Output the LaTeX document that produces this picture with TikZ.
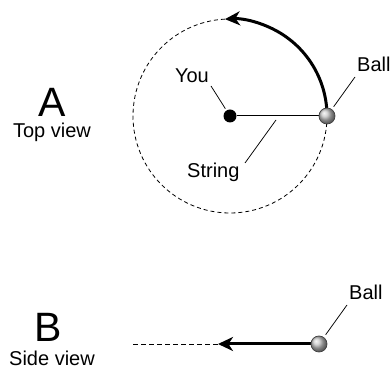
\documentclass[tikz,border=0pt]{standalone}
\usepackage{fontspec}
\setmainfont{Liberation Sans}
\usetikzlibrary{arrows.meta,backgrounds}

\begin{document}
\begin{tikzpicture}[x=1pt,y=-1pt,
    lbl/.style={font=\fontsize{20}{22}\selectfont, inner sep=0pt},
    bigletter/.style={font=\fontsize{41}{44}\selectfont, inner sep=0pt},
    balldot/.style={circle, minimum size=16pt, inner sep=0pt, draw=black!75, line width=0.7pt, shading=ball, ball color=gray!45},
    youdot/.style={circle, fill=black, minimum size=13pt, inner sep=0pt},
    leader/.style={line width=0.75pt},
    orbit/.style={line width=0.8pt, dash pattern=on 4pt off 3pt},
    mover/.style={line width=3pt, -{Stealth[length=15pt,width=14pt,inset=4.5pt]}}]
    \useasboundingbox (0,0) rectangle (392,371);

    % A: top view
    \node[bigletter, anchor=base] (lettA) at (52,117) {A};
    \node[lbl, anchor=base] (topview) at (52,138) {Top view};
    \node[youdot] (you) at (230,116) {};
    \node[balldot] (ballA) at (327,116) {};
    \node[lbl, anchor=base east] (youlbl) at (209,83) {You};
    \node[lbl, anchor=base west] (balllblA) at (357,72) {Ball};
    \node[lbl, anchor=base west] (strlbl) at (187,178) {String};
    \coordinate (youtip) at (211,86);
    \coordinate (balltipA) at (355,77);
    \coordinate (strtip) at (245,163);
    \coordinate (strend) at (276,120);
    \begin{scope}[on background layer]
        \draw[orbit] (you.center) circle (97);
        \draw[mover] (ballA.center) arc (0:-93:97);
        \draw[line width=1pt] (you) -- (ballA);
        \draw[leader, shorten >=2pt] (youtip) -- (you);
        \draw[leader, shorten >=3pt] (balltipA) -- (ballA);
        \draw[leader] (strtip) -- (strend);
    \end{scope}

    % B: side view
    \node[bigletter, anchor=base] (lettB) at (48,342) {B};
    \node[lbl, anchor=base] (sideview) at (52,366) {Side view};
    \node[balldot] (ballB) at (319,344) {};
    \node[lbl, anchor=base west] (balllblB) at (349,300) {Ball};
    \coordinate (tipB) at (218,344);
    \coordinate (tailB) at (133,344);
    \coordinate (balltipB) at (347,305);
    \begin{scope}[on background layer]
        \draw[orbit, dash pattern=on 5pt off 3pt] (tailB) -- (tipB);
        \draw[mover] (ballB) -- (tipB);
        \draw[leader, shorten >=3pt] (balltipB) -- (ballB);
    \end{scope}
\end{tikzpicture}
\end{document}
